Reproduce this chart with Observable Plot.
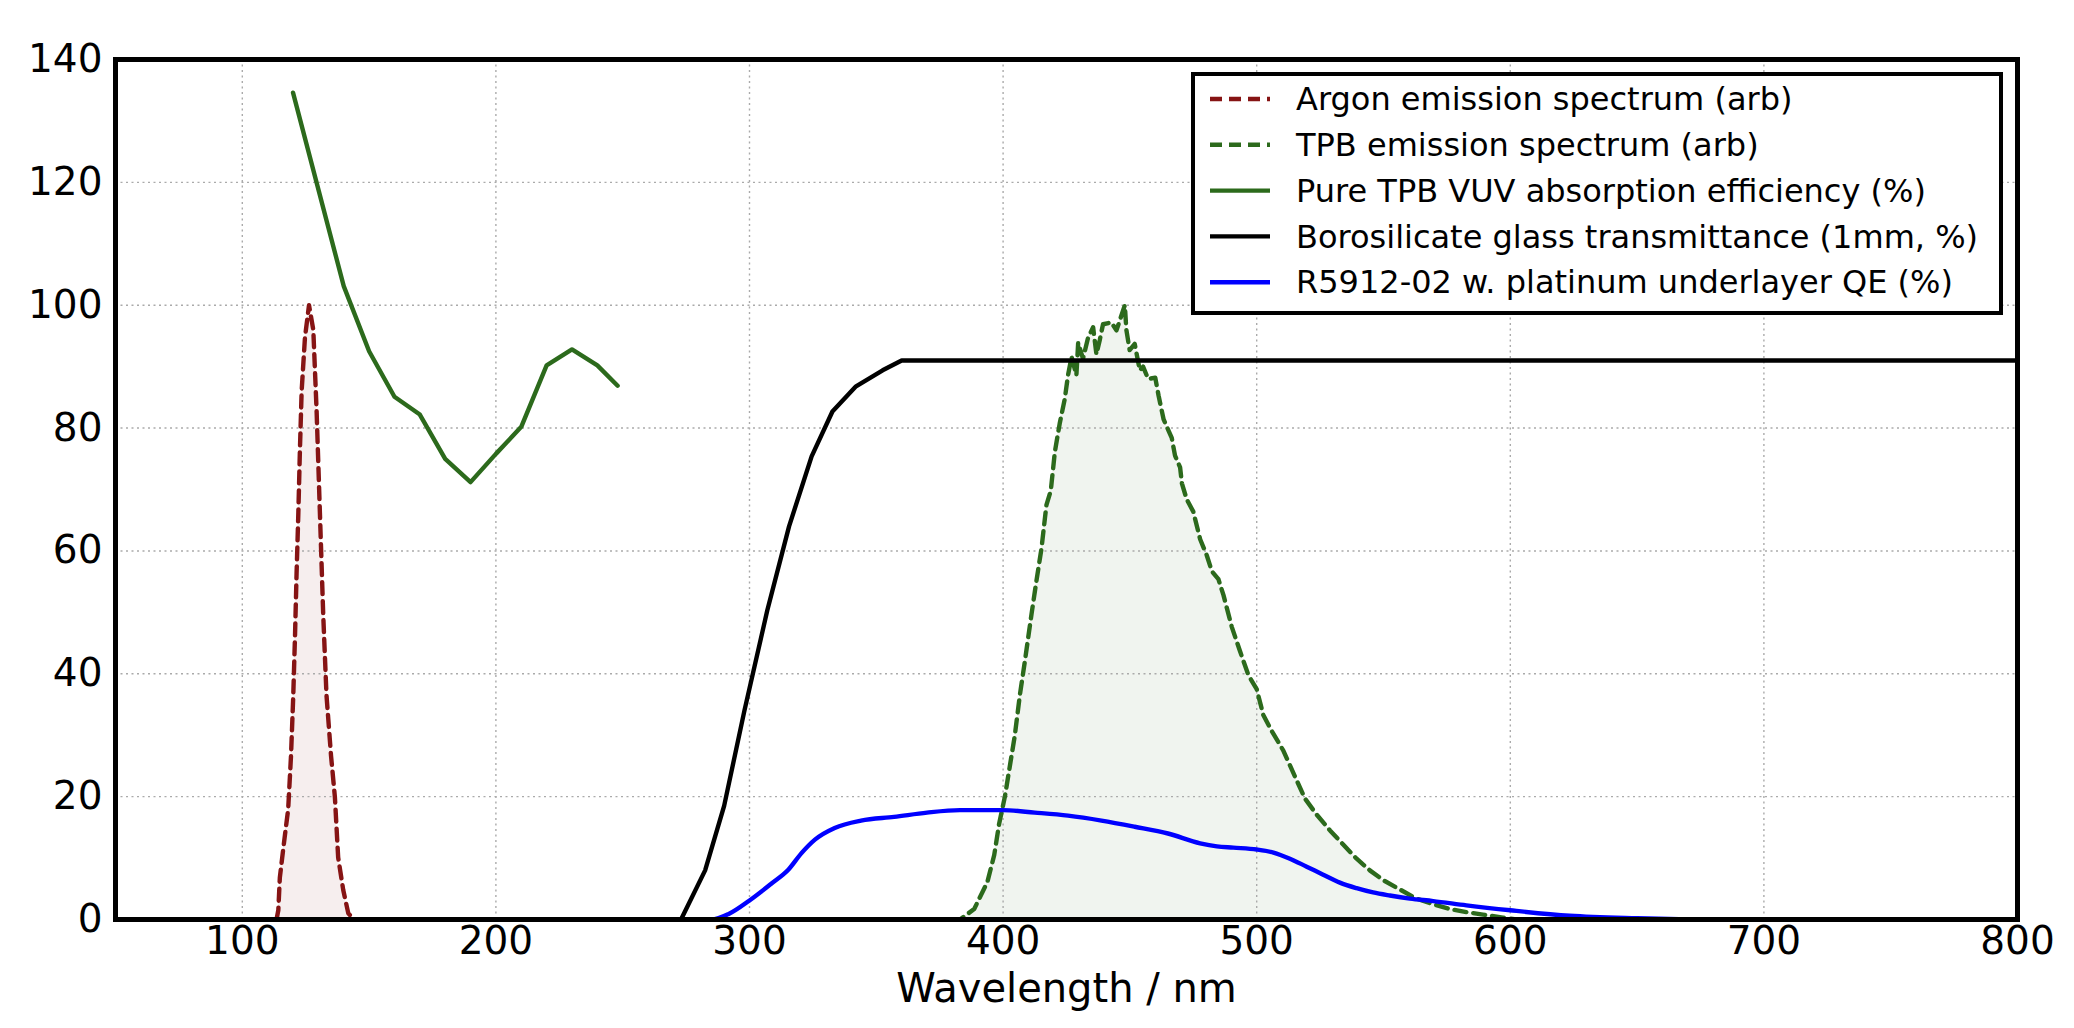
<!DOCTYPE html>
<html>
<head>
<meta charset="utf-8">
<script src="https://cdn.jsdelivr.net/npm/d3@7"></script>
<script src="https://cdn.jsdelivr.net/npm/@observablehq/plot@0.6"></script>
<style>
  html, body { margin: 0; padding: 0; background: #fff; }
  #chart svg { display: block; }
</style>
</head>
<body>
<div id="chart"></div>
<script>
// ---- data ----
const argonNm  = [113.5,114.2,114.8,116.2,118.1,119.2,120.1,120.8,121.4,122.1,122.7,123.4,124.7,126.3,128,129.3,130.6,131.9,133.2,135,136.5,137.8,139.8,141.8,144];
const argonVal = [0,1.5,6.8,11.7,18,26.6,36.5,46.4,56.3,66.2,76.1,86,94.7,100,96,82.8,66.2,49.7,36.5,26.6,20,10.1,4.8,1,0];

const tpbNm  = [290,383,388.6,393.8,396.5,398.4,400.7,402,404.6,406.6,408.5,411.2,413.1,415.1,417.1,418.8,420.4,422.3,424.3,425.6,427,428.9,429.6,431.5,433.5,435.5,436.8,438.1,439.4,442.7,444.7,448,448.6,449.9,451.9,453.9,455.2,457.2,460,461.3,463.3,466.5,467.8,469.8,470.5,472.4,475,477.7,480.3,482.3,484.9,486.9,490.2,493.4,496.7,500,502.6,505.9,510.5,514.4,519,523.6,528.9,534.1,539.4,544.6,549.9,556.4,563,569.6,576.1,582.7,589.2,597.1,602.4];
const tpbVal = [0,0,1.7,6.1,10.5,15.5,20,23.3,29.9,36.5,41.8,49.7,55,60.3,67.5,69.8,76.1,80.7,84.7,88.6,91.6,88.6,93.9,91.3,94.7,96.4,92,94.3,96.9,97.2,95.9,100,96,92.7,93.7,89.4,90,88,88.2,85.3,81.4,78.4,75.5,73.6,71,68.4,66.4,61.9,59.3,56.7,55.4,52.8,47.6,43.7,39.8,37.5,33.3,30.7,27.5,23.9,19.7,17.1,14.5,12.2,9.9,8,6.4,4.9,3.4,2.5,1.7,1.2,0.8,0.3,0];

const vuvNm  = [120,140,150,160,170,180,190,200,210,220,230,240,248];
const vuvVal = [134.6,103.1,92.5,85.1,82.2,75.0,71.2,75.8,80.2,90.2,92.8,90.2,86.9];

const boroNm  = [50,273,282.5,290,298,307,315.6,324.5,332.7,342,352.5,360,800];
const boroVal = [0,0,8,18.5,34,50.3,64,75.4,82.7,86.8,89.4,91,91];

const qeNm  = [50,285,291.8,300,308.8,315.3,320.5,325.8,333.6,344,357,370,383,400,412.5,425.6,438.8,451.9,465,477.7,484.3,490.8,500,506.6,513.1,519.7,526.2,532.8,539.4,545.9,552.5,560.4,569.6,582.7,600,623.4,650,680,800];
const qeVal = [0,0,0.9,3.1,5.9,8.1,10.8,13.0,14.9,16.1,16.7,17.4,17.8,17.8,17.4,16.9,16.1,15.1,14.0,12.4,11.9,11.7,11.4,10.9,9.9,8.6,7.3,6.0,5.1,4.4,3.9,3.4,3.0,2.3,1.5,0.6,0.2,0,0];

const xTicks = [100,200,300,400,500,600,700,800];
const yTicks = [0,20,40,60,80,100,120,140];

const legendLabels = [
  "Argon emission spectrum (arb)",
  "TPB emission spectrum (arb)",
  "Pure TPB VUV absorption efficiency (%)",
  "Borosilicate glass transmittance (1mm, %)",
  "R5912-02 w. platinum underlayer QE (%)"
];
const legendColors = ["#861414", "#2c6a1c", "#2c6a1c", "#000000", "#0000ff"];
const legendDashed = [true, true, false, false, false];

// ---- build ----
const zip = (xs, ys) => xs.map((x, i) => ({x, y: ys[i]}));
const argon = zip(argonNm, argonVal);
const tpb = zip(tpbNm, tpbVal);
const vuv = zip(vuvNm, vuvVal);
const boro = zip(boroNm, boroVal);
const qe = zip(qeNm, qeVal);

const W = 2074, H = 1028;
const mL = 115, mR = 57, mT = 59, mB = 109;
const LW = 4.4;
const dash = "12,7";
const grid = {stroke: "#aaaaaa", strokeOpacity: 1, strokeWidth: 1.4, strokeDasharray: "2,3.5"};

const chart = Plot.plot({
  width: W,
  height: H,
  marginLeft: mL, marginRight: mR, marginTop: mT, marginBottom: mB,
  style: {fontFamily: "DejaVu Sans", fontSize: "39px", color: "#000", background: "#fff"},
  x: {domain: [50, 800], ticks: xTicks},
  y: {domain: [0, 140], ticks: yTicks},
  marks: [
    Plot.areaY(argon, {x: "x", y: "y", fill: "#861414", fillOpacity: 0.07}),
    Plot.areaY(tpb, {x: "x", y: "y", fill: "#2c6a1c", fillOpacity: 0.07}),
    Plot.gridX(xTicks, grid),
    Plot.gridY(yTicks, grid),
    Plot.line(argon, {x: "x", y: "y", stroke: "#861414", strokeWidth: LW, strokeDasharray: dash}),
    Plot.line(tpb, {x: "x", y: "y", stroke: "#2c6a1c", strokeWidth: LW, strokeDasharray: dash}),
    Plot.line(vuv, {x: "x", y: "y", stroke: "#2c6a1c", strokeWidth: LW}),
    Plot.line(boro, {x: "x", y: "y", stroke: "#000", strokeWidth: LW}),
    Plot.line(qe, {x: "x", y: "y", stroke: "#0000ff", strokeWidth: LW, curve: "monotone-x"}),
    Plot.axisX(xTicks, {tickSize: 0, tickPadding: 7, label: null, fontSize: 39}),
    Plot.axisY(yTicks, {tickSize: 0, tickPadding: 13, label: null, fontSize: 39}),
    Plot.text(["Wavelength / nm"], {frameAnchor: "bottom", dy: 70, lineAnchor: "middle", fontSize: 40, fill: "#000"}),
    Plot.frame({stroke: "#000", strokeWidth: 5})
  ]
});
document.getElementById("chart").appendChild(chart);

// ---- legend (inside plot, upper right) ----
const svg = d3.select(chart);
const lg = svg.append("g").attr("font-family", "DejaVu Sans").attr("font-size", 32).attr("text-anchor", "start");
const box = {x: 1193, y: 74, w: 808, h: 239};
lg.append("rect").attr("x", box.x).attr("y", box.y).attr("width", box.w).attr("height", box.h)
  .attr("fill", "#fff").attr("stroke", "#000").attr("stroke-width", 4);
const rowY0 = 99, rowStep = 45.8;
legendLabels.forEach((label, i) => {
  const yy = rowY0 + i * rowStep;
  lg.append("line").attr("x1", 1210).attr("x2", 1270).attr("y1", yy).attr("y2", yy)
    .attr("stroke", legendColors[i]).attr("stroke-width", LW)
    .attr("stroke-dasharray", legendDashed[i] ? "12,7" : null);
  lg.append("text").attr("x", 1296).attr("y", yy).attr("dy", "0.35em")
    .attr("text-anchor", "start").attr("fill", "#000").text(label);
});
</script>
</body>
</html>
